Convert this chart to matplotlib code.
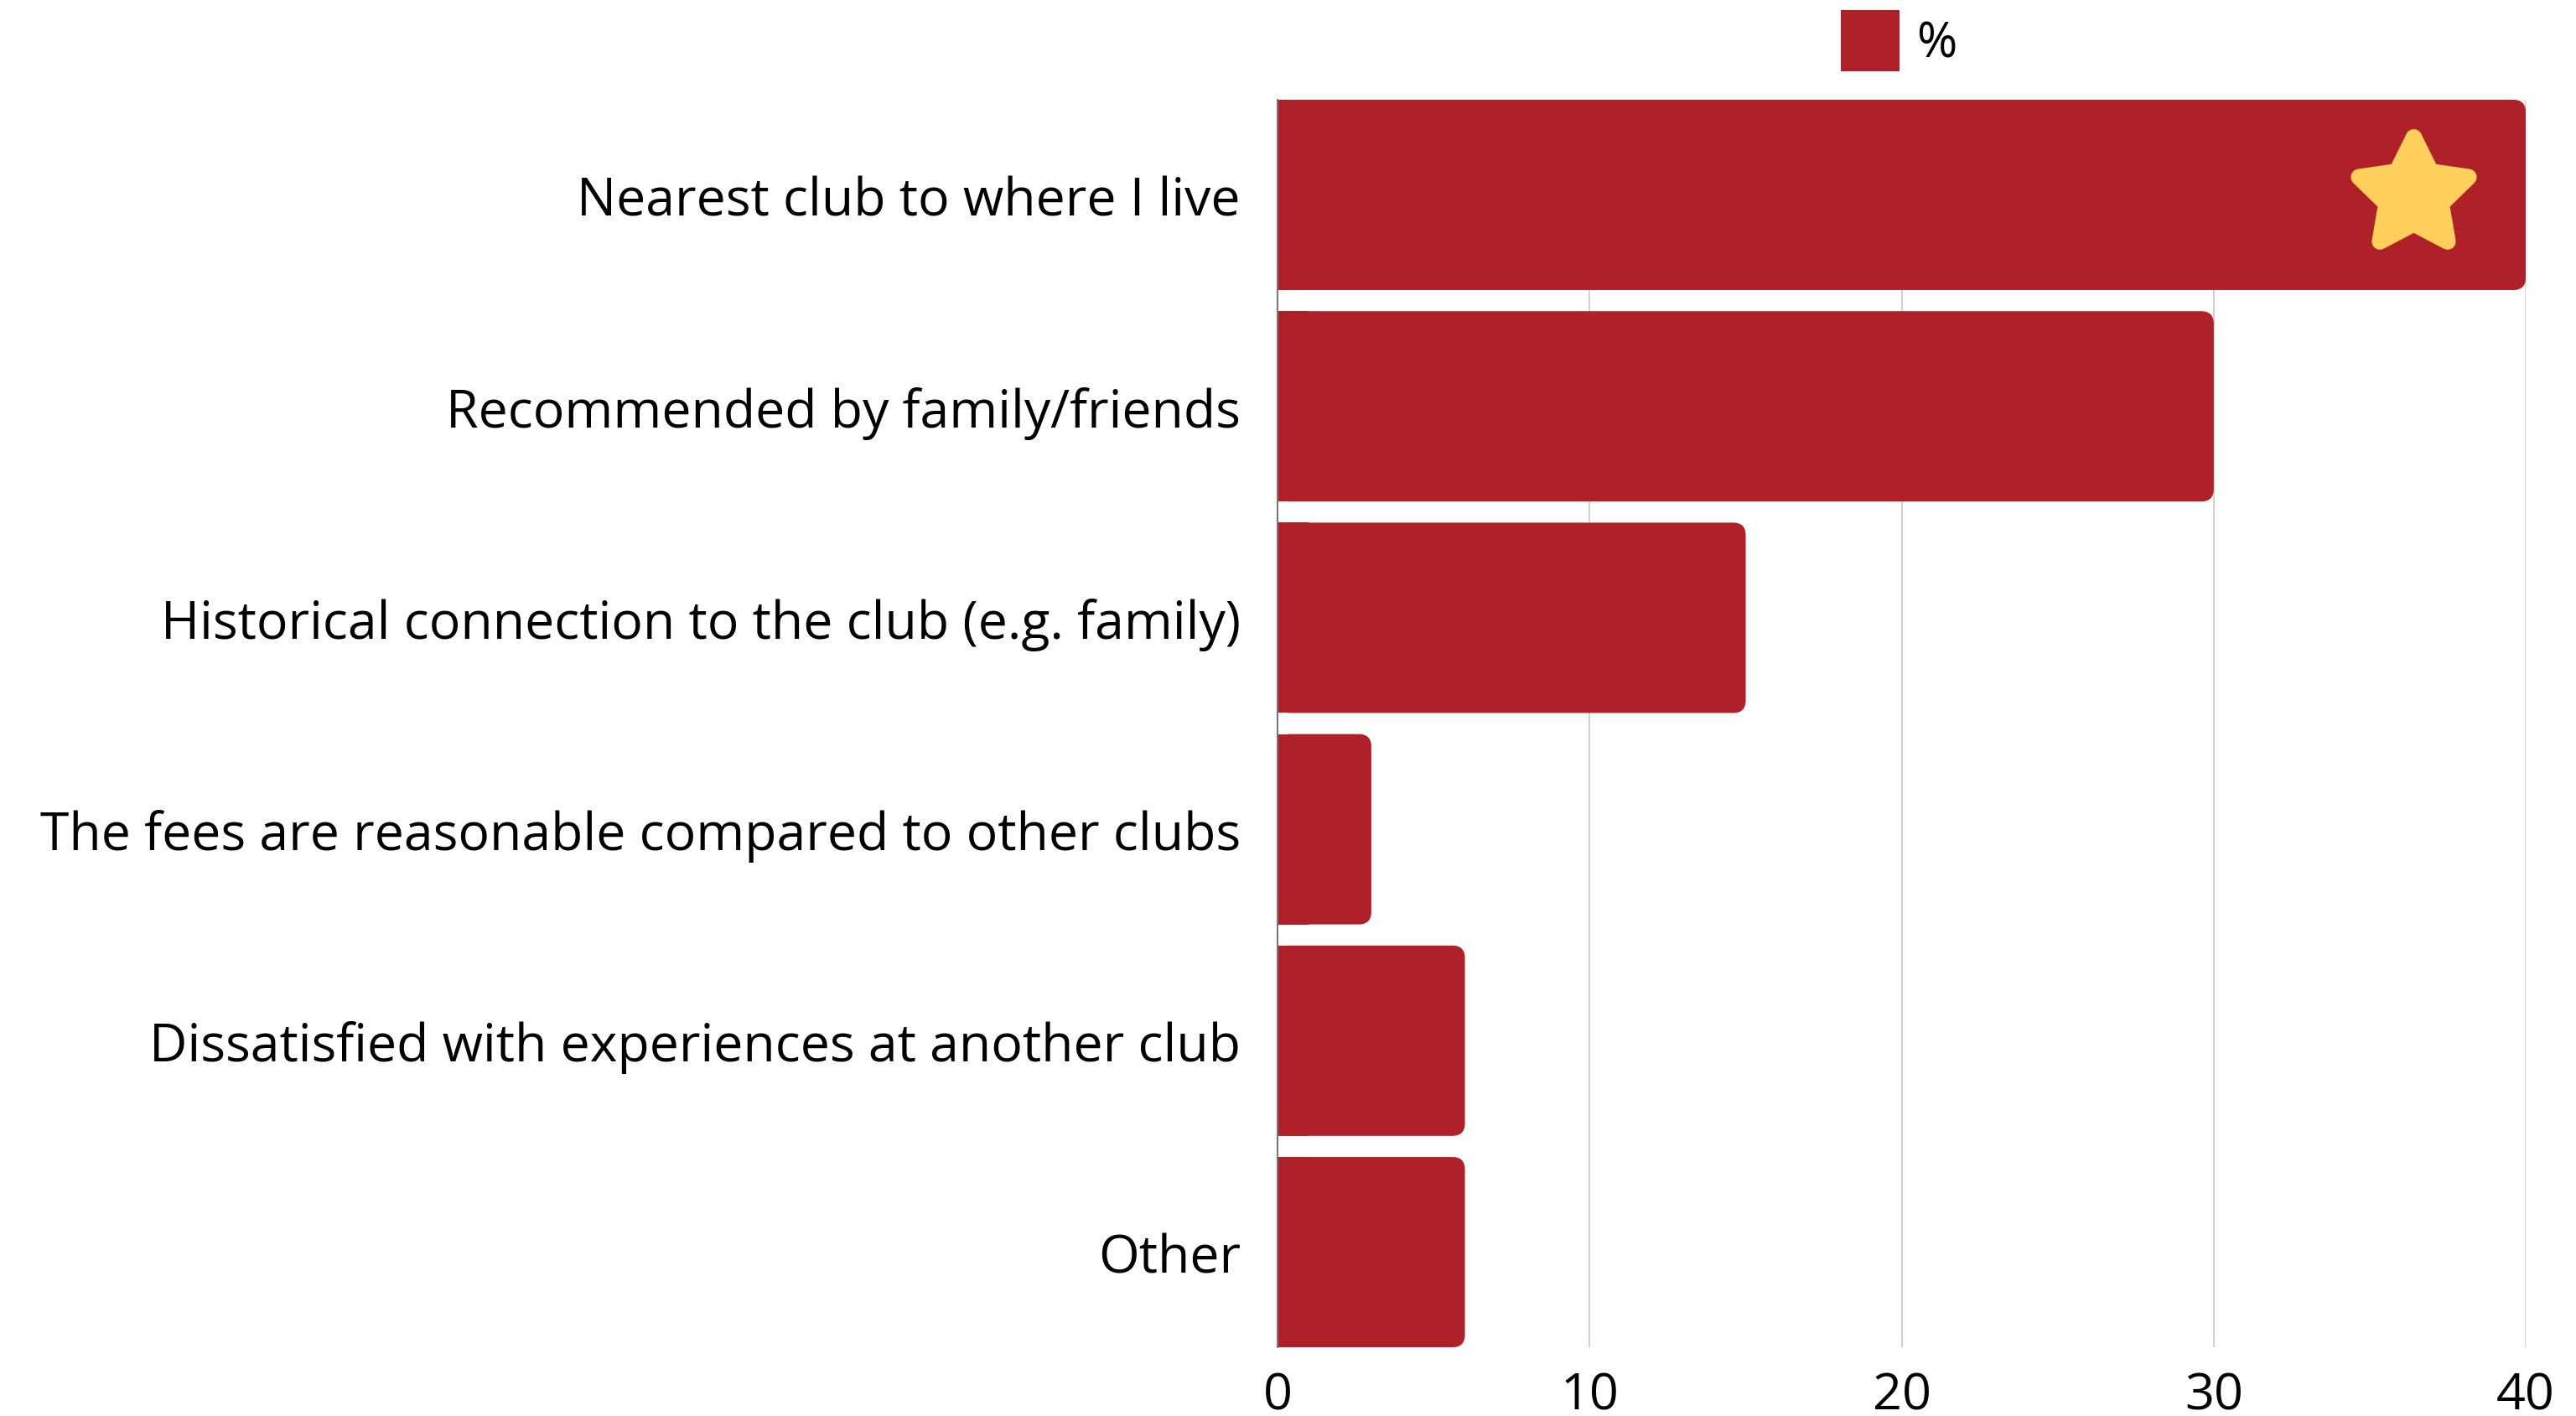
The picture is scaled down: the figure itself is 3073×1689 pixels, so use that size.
import matplotlib
matplotlib.use("Agg")
import matplotlib.pyplot as plt
from matplotlib.patches import FancyBboxPatch, Rectangle, Patch
from matplotlib.path import Path
import numpy as np

# datos
categorias = ["Nearest club to where I live",
              "Recommended by family/friends",
              "Historical connection to the club (e.g. family)",
              "The fees are reasonable compared to other clubs",
              "Dissatisfied with experiences at another club",
              "Other"]
valores = [40, 30, 15, 3, 6, 6]
ticks_x = [0, 10, 20, 30, 40]
serie = "%"

rojo = "#AF2029"
amarillo = "#FFCF5C"
fuente = ["Open Sans", "DejaVu Sans"]

plt.rcParams['font.family'] = fuente

fig = plt.figure(figsize=(30.73, 16.90), dpi=100)
ax = fig.add_axes([0.496, 0.0485, 0.4845, 0.8805])

alto = 0.9
barras = ax.barh(range(len(categorias)), valores, height=alto, color=rojo, zorder=3)

ax.set_xlim(0, 40)
ax.set_ylim(len(categorias) - 1 + alto / 2, -alto / 2)

# esquinas redondeadas solo a la derecha
radio = 0.4
aspecto = (1 / 252) / (1 / 37.2)
for b in barras:
    x, y = b.get_x(), b.get_y()
    w, h = b.get_width(), b.get_height()
    b.set_visible(False)
    ax.add_patch(FancyBboxPatch((x, y), w, h,
                                boxstyle=f"round,pad=0,rounding_size={radio}",
                                mutation_aspect=aspecto,
                                fc=rojo, ec="none", zorder=3))
    ax.add_patch(Rectangle((x, y), min(w, 1.0), h, fc=rojo, ec="none", zorder=3))

# estrella en la barra mayor
n = 5
ang = np.pi / 2 + np.arange(2 * n) * np.pi / n
rad = np.where(np.arange(2 * n) % 2 == 0, 1.0, 0.5)
verts = np.column_stack([rad * np.cos(ang), rad * np.sin(ang)])
verts = np.vstack([verts, verts[:1]])
codes = [Path.MOVETO] + [Path.LINETO] * (2 * n - 1) + [Path.CLOSEPOLY]
estrella = Path(verts, codes)
ax.plot([36.4], [0], marker=estrella, markersize=99, color=amarillo,
        markeredgecolor=amarillo, markeredgewidth=14, zorder=5,
        solid_joinstyle="round")

ax.set_yticks(range(len(categorias)))
ax.set_yticklabels(categorias, fontsize=45)
ax.set_xticks(ticks_x)
ax.set_xticklabels([str(t) for t in ticks_x], fontsize=44)
ax.tick_params(axis="y", length=0, pad=32)
ax.tick_params(axis="x", length=0, pad=20)

ax.grid(axis="x", color="#CCCCCC", lw=1.3, zorder=0)
ax.set_axisbelow(True)
for s in ["top", "right", "bottom"]:
    ax.spines[s].set_visible(False)
ax.spines["left"].set_color("#777777")
ax.spines["left"].set_linewidth(1.5)
ax.spines["left"].set_zorder(4)

# leyenda
fig.legend(handles=[Patch(fc=rojo, ec="none")], labels=[serie],
           loc="upper left", bbox_to_anchor=(2196 / 3073, 1 - 13 / 1690),
           frameon=False, fontsize=42, handlelength=1.2, handleheight=1.55,
           handletextpad=0.35, borderpad=0, borderaxespad=0)

fig.savefig("out.png", dpi=100, facecolor="white")
